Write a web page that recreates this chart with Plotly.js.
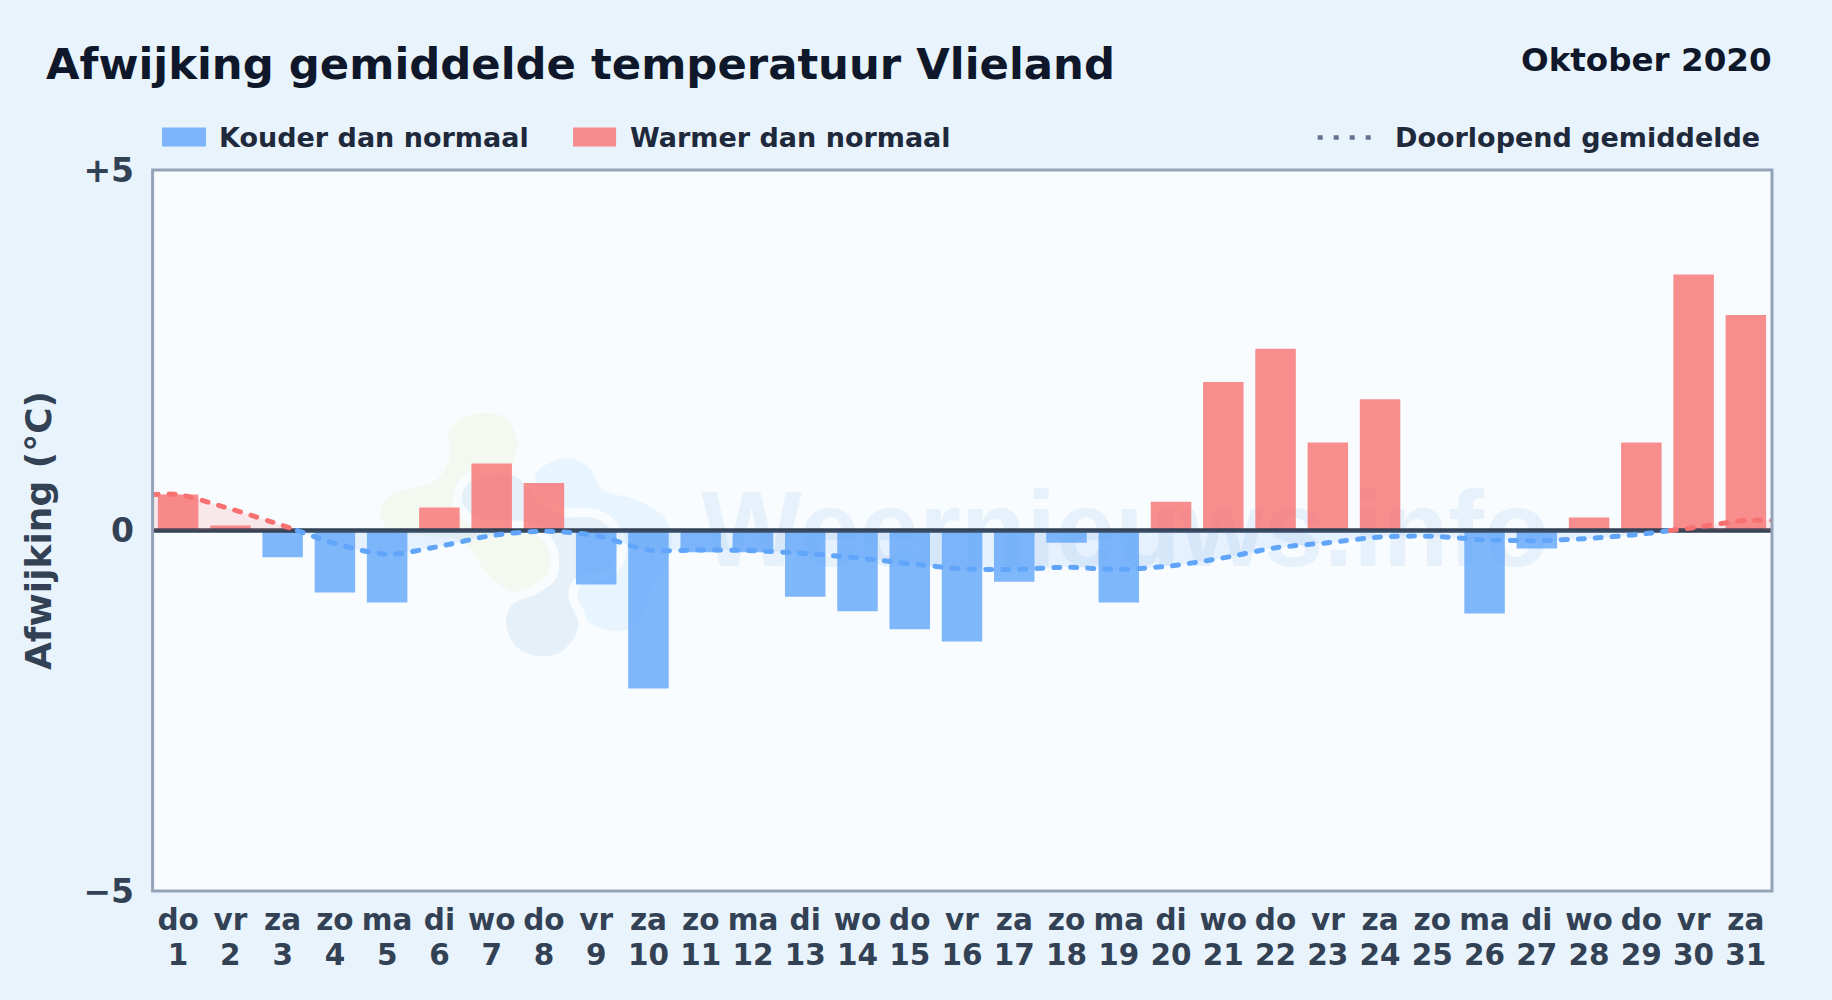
<!DOCTYPE html>
<html><head><meta charset="utf-8">
<script src="https://cdn.plot.ly/plotly-3.0.1.min.js"></script>
<style>html,body{margin:0;padding:0;background:#e8f3fc}#c{width:1832px;height:1000px}.scatterlayer .js-line{stroke-linecap:round}</style>
</head><body><div id="c"></div>
<script>
const dagen=[1,2,3,4,5,6,7,8,9,10,11,12,13,14,15,16,17,18,19,20,21,22,23,24,25,26,27,28,29,30,31];
const weekdagen=['do','vr','za','zo','ma','di','wo','do','vr','za','zo','ma','di','wo','do','vr','za','zo','ma','di','wo','do','vr','za','zo','ma','di','wo','do','vr','za'];
const afwijking=[0.5,0.07,-0.37,-0.86,-1.0,0.32,0.93,0.66,-0.75,-2.19,-0.3,-0.3,-0.92,-1.12,-1.37,-1.54,-0.71,-0.17,-1.0,0.4,2.06,2.52,1.22,1.82,0,-1.15,-0.25,0.18,1.22,3.55,2.99];
const gemiddelde=[0.5,0.3,0.07,-0.18,-0.33,-0.22,-0.07,-0.01,-0.07,-0.27,-0.27,-0.28,-0.32,-0.38,-0.46,-0.53,-0.54,-0.51,-0.54,-0.49,-0.38,-0.24,-0.17,-0.09,-0.08,-0.13,-0.14,-0.11,-0.05,0.04,0.14];

const KOUD='#60a5fa',WARM='#f87171',BG='#e8f3fc',PLOT='#f8fcff',INK='#0f172a',LEG='#1e293b',TICK='#334155',FRAME='#94a3b8';
const FONT='"DejaVu Sans"';
const L=152,R=1771.7,T=169.5,B=890.7,W=1832,H=1000;
const px=x=>(x-L)/(R-L), py=y=>(B-y)/(B-T);

// --- watermark blobs (pixel outlines, smoothed) ---
const zoomPt=p=>[350+p[0]/3,380+p[1]/3];
function blob(pts){
  const q=pts.map(zoomPt),n=q.length;let d='M'+px(q[0][0])+','+py(q[0][1]);
  for(let i=0;i<n;i++){
    const a=q[(i-1+n)%n],b=q[i],c=q[(i+1)%n],e=q[(i+2)%n];
    const c1=[b[0]+(c[0]-a[0])/6,b[1]+(c[1]-a[1])/6],c2=[c[0]-(e[0]-b[0])/6,c[1]-(e[1]-b[1])/6];
    d+='C'+px(c1[0])+','+py(c1[1])+' '+px(c2[0])+','+py(c2[1])+' '+px(c[0])+','+py(c[1]);
  }
  return d+'Z';
}
const groen=[[400,98],[470,115],[503,190],[490,270],[560,330],[610,530],[590,610],[510,640],[420,590],[340,485],[240,468],[130,455],[90,400],[130,340],[250,305],[300,230],[295,160],[330,115]];
const lichtblauw=[[650,232],[720,265],[760,330],[860,358],[950,420],[960,520],[900,640],[860,730],[790,752],[710,720],[665,650],[670,590],[620,480],[600,410],[560,330],[565,270]];
const grijsblauw=[[430,282],[500,290],[560,360],[640,408],[740,415],[800,480],[780,560],[680,590],[655,650],[685,735],[640,810],[570,828],[500,800],[468,730],[490,670],[560,640],[620,590],[620,500],[560,430],[480,420],[380,410],[335,360],[360,305]];
const blobShape=(pts,col,line)=>({type:'path',xref:'paper',yref:'paper',layer:'below',path:blob(pts),fillcolor:col,line:line?{color:PLOT,width:line}:{width:0}});

const shapes=[
  blobShape(groen,'#f3f8f1'),
  blobShape(lichtblauw,PLOT,18), blobShape(lichtblauw,'#e9f5fe'),
  blobShape(grijsblauw,PLOT,18), blobShape(grijsblauw,'#e6f0f9'),
  {type:'rect',xref:'paper',yref:'paper',layer:'below',x0:px(703),x1:px(1547),y0:py(568),y1:py(470),fillcolor:'rgba(0,0,0,0)',line:{width:0},
   label:{text:'Weernieuws.info',textposition:'middle center',font:{family:'"Liberation Sans"',size:107,weight:700,color:'#e6f1fb'}}},
  {type:'rect',xref:'paper',yref:'paper',x0:px(162),x1:px(206),y0:py(146),y1:py(127),fillcolor:KOUD,opacity:0.8,line:{width:0}},
  {type:'rect',xref:'paper',yref:'paper',x0:px(573),x1:px(616),y0:py(146),y1:py(127),fillcolor:WARM,opacity:0.8,line:{width:0}},
  {type:'line',xref:'paper',yref:'paper',x0:px(1317.5),x1:px(1373),y0:py(137),y1:py(137),line:{color:'#64748b',width:4.5,dash:'5px,11px'}},
  {type:'rect',xref:'paper',yref:'paper',x0:px(152.6),x1:px(1771.7),y0:py(890.7),y1:py(169.5),fillcolor:'rgba(0,0,0,0)',line:{color:FRAME,width:3}}
];

const legendText=(t,x)=>({text:t,xref:'paper',yref:'paper',x:px(x),y:py(137),xanchor:'left',yanchor:'middle',showarrow:false,font:{family:FONT,size:27,weight:700,color:LEG}});
const annotations=[
  legendText('Kouder dan normaal',216.5),
  legendText('Warmer dan normaal',627.5),
  legendText('Doorlopend gemiddelde',1392.5),
  {text:'Oktober 2020',xref:'paper',yref:'paper',x:px(1774),y:py(59),xanchor:'right',yanchor:'middle',showarrow:false,font:{family:FONT,size:32.55,weight:700,color:INK}}
];

// --- traces ---
const traces=[
  {type:'bar',name:'Kouder dan normaal',x:dagen,y:afwijking.map(v=>v<0?v:null),width:0.775,marker:{color:KOUD,opacity:0.8,line:{width:0}}},
  {type:'bar',name:'Warmer dan normaal',x:dagen,y:afwijking.map(v=>v>0?v:null),width:0.775,marker:{color:WARM,opacity:0.8,line:{width:0}}},
  {type:'scatter',mode:'lines',name:'nullijn',x:[0.5,31.5],y:[0,0],line:{color:TICK,width:4.5},hoverinfo:'skip'}
];
// running mean, extended to the frame edges and split where it changes sign
const mx=[0.5,...dagen,31.5], my=[gemiddelde[0],...gemiddelde,gemiddelde[30]];
let seg={x:[mx[0]],y:[my[0]]};
function flush(pos){
  traces.push({type:'scatter',mode:'lines',xaxis:'x2',yaxis:'y',name:'Doorlopend gemiddelde',x:seg.x,y:seg.y,
    fill:'tozeroy',fillcolor:pos?'rgba(248,113,113,0.14)':'rgba(96,165,250,0.12)',
    line:{color:pos?WARM:KOUD,width:5,shape:'spline',smoothing:0.8,dash:'6px,11px'},hoverinfo:'skip'});
}
for(let i=1;i<mx.length;i++){
  if((my[i]>=0)!==(my[i-1]>=0)){
    const t=my[i-1]/(my[i-1]-my[i]),xc=mx[i-1]+t*(mx[i]-mx[i-1]);
    seg.x.push(xc);seg.y.push(0);flush(my[i-1]>=0);
    seg={x:[xc],y:[0]};
  }
  seg.x.push(mx[i]);seg.y.push(my[i]);
}
flush(my[my.length-1]>=0);

const xBase={range:[0.5,31.5],tickmode:'array',tickvals:dagen,ticks:'',showgrid:false,zeroline:false,fixedrange:true,automargin:false,
  tickfont:{family:FONT,size:29.5,weight:700,color:TICK},tickangle:0,showline:false};
const layout={
  width:W,height:H,autosize:false,paper_bgcolor:BG,plot_bgcolor:PLOT,showlegend:false,barmode:'overlay',
  margin:{l:L,r:W-R,t:T,b:H-B,pad:0},
  title:{text:'Afwijking gemiddelde temperatuur Vlieland',x:46/W,xanchor:'left',xref:'container',y:1-64/H,yanchor:'middle',yref:'container',font:{family:FONT,size:43.35,weight:700,color:INK}},
  xaxis:{...xBase,ticktext:weekdagen,ticklabelstandoff:8},
  xaxis2:{...xBase,ticktext:dagen.map(String),overlaying:'x',anchor:'y',side:'bottom',ticklabelstandoff:43},
  yaxis:{range:[-5,5],tickmode:'array',tickvals:[-5,0,5],ticktext:['\u22125','0','+5'],ticks:'',showgrid:false,zeroline:false,fixedrange:true,
    showline:false,ticklabelstandoff:17,tickfont:{family:FONT,size:33,weight:700,color:TICK},
    title:{text:'Afwijking (°C)',standoff:20,font:{family:FONT,size:36,weight:700,color:TICK}}},
  shapes,annotations
};
Plotly.newPlot('c',traces,layout,{displayModeBar:false,responsive:false});
</script></body></html>
